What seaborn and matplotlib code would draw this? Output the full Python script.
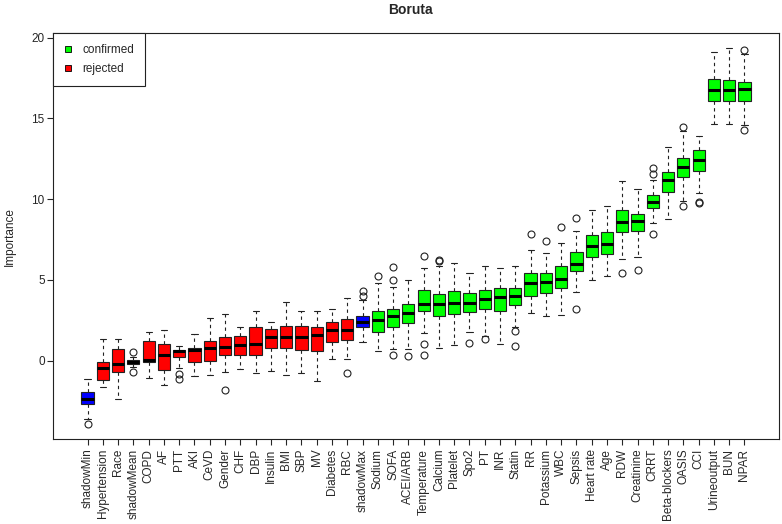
import matplotlib
matplotlib.use("Agg")
import matplotlib.pyplot as plt
from matplotlib.lines import Line2D
import seaborn as sns

# Boruta importance per feature
features = ["shadowMin", "Hypertension", "Race", "shadowMean", "COPD", "AF", "PTT", "AKI",
            "CeVD", "Gender", "CHF", "DBP", "Insulin", "BMI", "SBP", "MV", "Diabetes", "RBC",
            "shadowMax", "Sodium", "SOFA", "ACEI/ARB", "Temperature", "Calcium", "Platelet",
            "Spo2", "PT", "INR", "Statin", "RR", "Potassium", "WBC", "Sepsis", "Heart rate",
            "Age", "RDW", "Creatinine", "CRRT", "Beta-blockers", "OASIS", "CCI",
            "Urineoutput", "BUN", "NPAR"]
decision = (["shadow", "rejected", "rejected", "shadow"] + ["rejected"] * 14 + ["shadow"]
            + ["confirmed"] * 25)

whis_lo = [-3.60, -1.65, -2.35, -0.40, -1.09, -1.49, -0.43, -0.95, -0.87, -0.72, -0.52,
           -0.74, -0.62, -0.91, -0.76, -1.28, 0.08, 0.10, 1.13, 0.58, 0.72, 0.72, 1.73,
           0.76, 0.95, 1.78, 1.55, 1.05, 2.10, 2.95, 2.74, 2.85, 4.23, 5.02, 5.22, 6.30,
           6.44, 8.52, 8.79, 9.86, 10.38, 14.63, 14.63, 14.61]
q1 = [-2.70, -1.20, -0.68, -0.23, -0.08, -0.58, 0.21, -0.08, 0.00, 0.37, 0.33, 0.37, 0.76,
      0.79, 0.66, 0.62, 1.16, 1.26, 2.06, 1.75, 2.10, 2.31, 3.05, 2.77, 2.89, 3.01, 3.18,
      3.05, 3.45, 4.01, 4.17, 4.50, 5.53, 6.42, 6.61, 7.95, 8.01, 9.43, 10.44, 11.37,
      11.75, 16.08, 16.06, 16.08]
median = [-2.39, -0.45, -0.19, -0.06, 0.06, 0.35, 0.58, 0.66, 0.78, 0.87, 0.99, 1.01, 1.44,
          1.44, 1.44, 1.61, 1.88, 1.92, 2.37, 2.50, 2.74, 2.95, 3.53, 3.53, 3.57, 3.55,
          3.84, 3.92, 3.98, 4.79, 4.87, 5.06, 6.01, 7.08, 7.24, 8.61, 8.67, 9.85, 11.16,
          11.97, 12.45, 16.74, 16.78, 16.82]
q3 = [-1.94, -0.06, 0.70, 0.06, 1.24, 1.05, 0.68, 0.80, 1.20, 1.49, 1.53, 2.06, 1.94, 2.12,
      2.12, 2.10, 2.39, 2.56, 2.79, 3.05, 3.20, 3.53, 4.38, 4.11, 4.31, 4.19, 4.40, 4.50,
      4.52, 5.45, 5.43, 5.88, 6.73, 7.80, 7.97, 9.35, 9.10, 10.24, 11.68, 12.57, 13.05,
      17.44, 17.40, 17.25]
whis_hi = [-1.13, 1.36, 1.36, 0.25, 1.75, 1.90, 0.91, 1.65, 2.64, 2.89, 2.10, 3.05, 2.41,
           3.61, 3.05, 3.05, 3.22, 3.90, 3.78, 4.81, 4.56, 4.97, 5.76, 5.84, 6.03, 5.43,
           5.88, 5.74, 5.88, 6.87, 6.67, 7.29, 8.05, 9.35, 9.60, 11.13, 10.61, 11.21,
           13.23, 14.22, 13.93, 19.09, 19.34, 19.01]
outliers = [[-3.92], [], [], [0.54, -0.72], [], [], [-0.80, -1.13], [], [], [-1.80], [], [],
            [], [], [], [], [], [-0.74], [4.00, 4.33], [5.22], [5.82, 4.97, 0.37], [0.27],
            [6.48, 1.05, 0.37], [6.25, 6.19], [], [1.09], [1.32], [], [1.82, 0.89], [7.84],
            [7.39], [8.28], [8.81, 3.20], [], [], [5.43], [5.59], [11.93, 11.54, 7.84], [],
            [14.47, 9.55], [9.80, 9.74], [], [], [19.24, 14.26]]

colors = {"confirmed": "#00FF00", "rejected": "#FF0000", "shadow": "#0000FF"}

sns.set_theme(style="ticks")
plt.rcParams["font.family"] = ["Liberation Sans", "DejaVu Sans"]

fig = plt.figure(figsize=(7.82, 5.24), dpi=100)
ax = fig.add_axes([53 / 782, 1 - 439 / 524, 726 / 782, 405.7 / 524])

stats = []
for i, name in enumerate(features):
    stats.append({"label": name, "med": median[i], "q1": q1[i], "q3": q3[i],
                  "whislo": whis_lo[i], "whishi": whis_hi[i], "fliers": outliers[i]})

positions = list(range(1, len(features) + 1))
bp = ax.bxp(stats, positions=positions, widths=0.8, capwidths=0.4, patch_artist=True,
            boxprops=dict(edgecolor="#222222", linewidth=0.8),
            medianprops=dict(color="black", linewidth=2.2, solid_capstyle="butt"),
            whiskerprops=dict(color="#222222", linewidth=0.8, linestyle=(0, (3, 3))),
            capprops=dict(color="#222222", linewidth=0.8),
            flierprops=dict(marker="o", markerfacecolor="none", markeredgecolor="#222222",
                            markersize=5, markeredgewidth=0.8))
for patch, d in zip(bp["boxes"], decision):
    patch.set_facecolor(colors[d])

ax.set_xlim(0.5 - 0.04 * 44, 44.5 + 0.04 * 44)
ax.set_ylim(-4.85, 20.27)
ax.set_yticks([0, 5, 10, 15, 20])
ax.set_xticks(positions)
ax.set_xticklabels(features, rotation=90, fontsize=8.5)
ax.tick_params(axis="y", labelsize=8.5, length=4, width=0.8, direction="out", left=True, pad=2)
ax.tick_params(axis="x", length=4, width=0.8, direction="out", bottom=True, pad=3)
for s in ax.spines.values():
    s.set_color("#222222")
    s.set_linewidth(0.8)
ax.set_ylabel("Importance", fontsize=8.5, labelpad=11)

handles = [Line2D([], [], linestyle="none", marker="s", markersize=5,
                  markerfacecolor=colors[k], markeredgecolor="black", markeredgewidth=0.6)
           for k in ["confirmed", "rejected"]]
leg = ax.legend(handles, ["confirmed", "rejected"], loc="upper left", fontsize=8.5,
                frameon=True, fancybox=False, framealpha=1, edgecolor="#222222",
                borderaxespad=0, handlelength=0.8, handletextpad=0.8, borderpad=0.9,
                labelspacing=0.6)
leg.get_frame().set_linewidth(0.8)

fig.text(410 / 782, 1 - 10 / 524, "Boruta", ha="center", va="center", fontsize=10,
         fontweight="bold")

fig.savefig("out.png", dpi=100)
